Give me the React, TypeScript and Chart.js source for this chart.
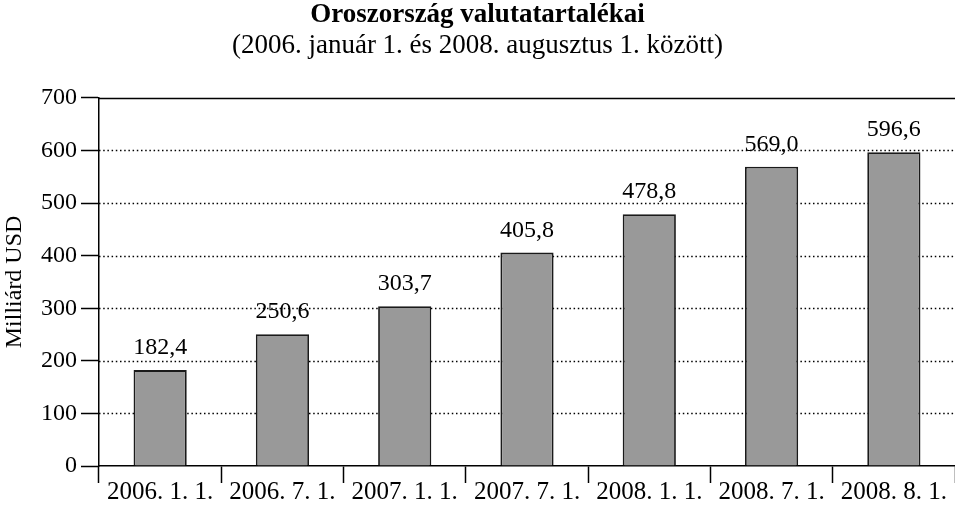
import React, { useEffect, useRef } from 'react';
import { Chart, registerables } from 'chart.js';

Chart.register(...registerables);

const categories = ['2006. 1. 1.', '2006. 7. 1.', '2007. 1. 1.', '2007. 7. 1.', '2008. 1. 1.', '2008. 7. 1.', '2008. 8. 1.'];
const reserves = [182.4, 250.6, 303.7, 405.8, 478.8, 569.0, 596.6];
const yMin = 0;
const yMax = 700;
const yStep = 100;
const titleText = 'Oroszország valutatartalékai';
const subtitleText = '(2006. január 1. és 2008. augusztus 1. között)';
const yAxisTitle = 'Milliárd USD';

const FONT = "'Liberation Serif', 'Times New Roman', serif";

const gridPlugin = {
  id: 'dottedGrid',
  beforeDatasetsDraw(chart: any) {
    const { ctx, chartArea, scales } = chart;
    const y = scales.y;
    ctx.save();
    ctx.strokeStyle = '#000';
    y.ticks.forEach((t: any) => {
      if (t.value === yMin) return;
      const py = Math.round(y.getPixelForValue(t.value)) + 0.5;
      if (t.value === yMax) {
        ctx.setLineDash([]);
        ctx.lineWidth = 1.5;
      } else {
        ctx.setLineDash([1.5, 2.7]);
        ctx.lineWidth = 1.5;
      }
      ctx.beginPath();
      ctx.moveTo(chartArea.left, py);
      ctx.lineTo(chartArea.right, py);
      ctx.stroke();
    });
    ctx.restore();
  },
};

const labelPlugin = {
  id: 'valueLabels',
  afterDatasetsDraw(chart: any) {
    const { ctx } = chart;
    const meta = chart.getDatasetMeta(0);
    ctx.save();
    ctx.fillStyle = '#000';
    ctx.font = `24px ${FONT}`;
    ctx.textAlign = 'center';
    ctx.textBaseline = 'alphabetic';
    meta.data.forEach((bar: any, i: number) => {
      const v = reserves[i];
      ctx.fillText(v.toFixed(1).replace('.', ','), bar.x, bar.y - 16);
    });
    ctx.restore();
  },
};

export default function App() {
  const canvasRef = useRef<HTMLCanvasElement>(null);

  useEffect(() => {
    if (!canvasRef.current) return;
    const chart = new Chart(canvasRef.current, {
      type: 'bar',
      data: {
        labels: categories,
        datasets: [
          {
            data: reserves,
            backgroundColor: '#999999',
            borderColor: '#1a1a1a',
            borderWidth: 1.8,
            barPercentage: 0.435,
            categoryPercentage: 1,
          },
        ],
      },
      options: {
        animation: false,
        responsive: true,
        maintainAspectRatio: false,
        layout: { padding: { left: 0, right: 0, top: 0, bottom: 0 } },
        plugins: {
          legend: { display: false },
          tooltip: { enabled: false },
          title: {
            display: true,
            text: titleText,
            color: '#000',
            font: { family: FONT, size: 27, weight: 'bold', lineHeight: 1.1 },
            padding: { top: 0, bottom: 0 },
          },
          subtitle: {
            display: true,
            text: subtitleText,
            color: '#000',
            font: { family: FONT, size: 27, lineHeight: 1.1 },
            padding: { top: 1.5, bottom: 37 },
          },
        },
        scales: {
          x: {
            grid: {
              offset: true,
              drawOnChartArea: false,
              drawTicks: true,
              tickLength: 17,
              tickWidth: 1.5,
              tickColor: (c: any) => (c.index >= categories.length ? 'rgba(0,0,0,0)' : '#000'),
            },
            border: { color: '#000', width: 1.5 },
            ticks: {
              color: '#000',
              font: { family: FONT, size: 25 },
              padding: -6,
              maxRotation: 0,
              autoSkip: false,
            },
            afterFit: (s: any) => {
              s.height = 40;
            },
          },
          y: {
            min: yMin,
            max: yMax,
            grid: {
              drawOnChartArea: false,
              drawTicks: true,
              tickLength: 18,
              tickWidth: 1.5,
              tickColor: '#000',
            },
            border: { color: '#000', width: 1.5 },
            ticks: {
              stepSize: yStep,
              color: '#000',
              font: { family: FONT, size: 24 },
              padding: 4,
            },
            title: {
              display: true,
              text: yAxisTitle,
              color: '#000',
              font: { family: FONT, size: 24 },
              padding: { top: 0, bottom: 0 },
            },
            afterFit: (s: any) => {
              s.width = 99;
            },
          },
        },
      },
      plugins: [gridPlugin, labelPlugin],
    });
    return () => chart.destroy();
  }, []);

  return (
    <div style={{ position: 'fixed', left: 0, top: 0, width: 955, height: 506, background: '#fff' }}>
      <canvas ref={canvasRef} />
    </div>
  );
}
